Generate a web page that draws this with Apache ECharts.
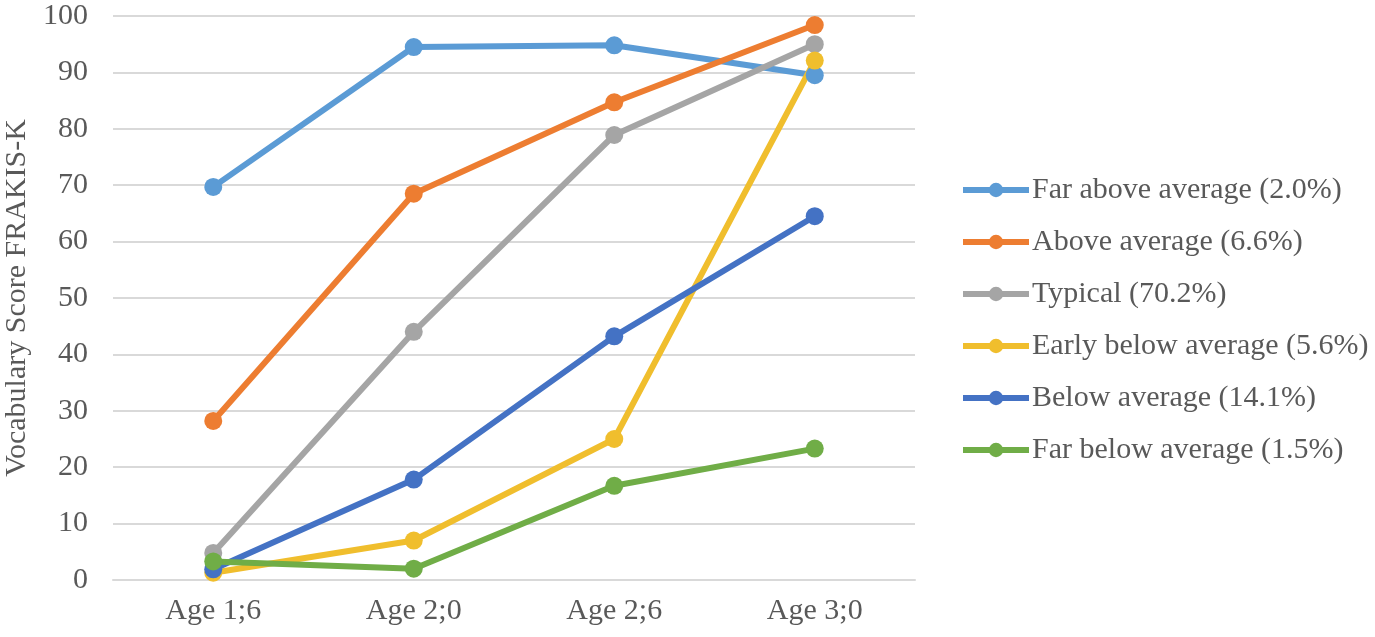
<!DOCTYPE html>
<html>
<head>
<meta charset="utf-8">
<script src="https://cdn.jsdelivr.net/npm/echarts@6/dist/echarts.min.js"></script>
<style>html,body{margin:0;padding:0;background:#fff;}#c{width:1375px;height:637px;}</style>
</head>
<body>
<div id="c"></div>
<script>
var categories = ['Age 1;6', 'Age 2;0', 'Age 2;6', 'Age 3;0'];
var seriesNames = ['Far above average (2.0%)', 'Above average (6.6%)', 'Typical (70.2%)', 'Early below average (5.6%)', 'Below average (14.1%)', 'Far below average (1.5%)'];
var farAbove = [69.7, 94.5, 94.8, 89.5];
var above = [28.2, 68.5, 84.7, 98.4];
var typical = [4.8, 44.0, 78.9, 95.0];
var earlyBelow = [1.3, 7.0, 25.0, 92.1];
var below = [1.9, 17.8, 43.2, 64.5];
var farBelow = [3.3, 2.0, 16.7, 23.3];
var colors = ['#5B9BD5', '#ED7D31', '#A5A5A5', '#F0BE2D', '#4472C4', '#70AD47'];
var allData = [farAbove, above, typical, earlyBelow, below, farBelow];
var yTicks = {min: 0, max: 100, interval: 10};

var font = 'Liberation Serif';
var fs = 30;
var chart = echarts.init(document.getElementById('c'));
chart.setOption({
  animation: false,
  backgroundColor: '#ffffff',
  color: colors,
  grid: {left: 113, right: 460, top: 16, bottom: 57, containLabel: false, outerBoundsMode: 'none'},
  legend: {
    orient: 'vertical',
    left: 955,
    top: 170,
    itemWidth: 66,
    itemHeight: 18,
    itemGap: 22,
    lineStyle: {width: 6},
    textStyle: {fontFamily: font, fontSize: fs, color: '#595959', padding: [0, 0, 0, -2]},
    data: seriesNames
  },
  xAxis: {
    type: 'category',
    data: categories,
    boundaryGap: true,
    axisLine: {show: true, lineStyle: {color: '#D9D9D9', width: 2}},
    axisTick: {show: false},
    axisLabel: {fontFamily: font, fontSize: fs, color: '#595959', margin: 16}
  },
  yAxis: {
    type: 'value',
    min: yTicks.min, max: yTicks.max, interval: yTicks.interval,
    name: 'Vocabulary Score FRAKIS-K',
    nameLocation: 'middle',
    nameGap: 78,
    nameTextStyle: {fontFamily: font, fontSize: fs, color: '#595959'},
    axisLine: {show: false},
    axisTick: {show: false},
    splitLine: {lineStyle: {color: '#D9D9D9', width: 2}},
    axisLabel: {fontFamily: font, fontSize: fs, color: '#595959', margin: 25}
  },
  series: allData.map(function (d, i) {
    return {
      name: seriesNames[i],
      type: 'line',
      data: d,
      symbol: 'circle',
      symbolSize: 18,
      lineStyle: {width: 6, color: colors[i]},
      itemStyle: {color: colors[i]}
    };
  })
});
</script>
</body>
</html>
